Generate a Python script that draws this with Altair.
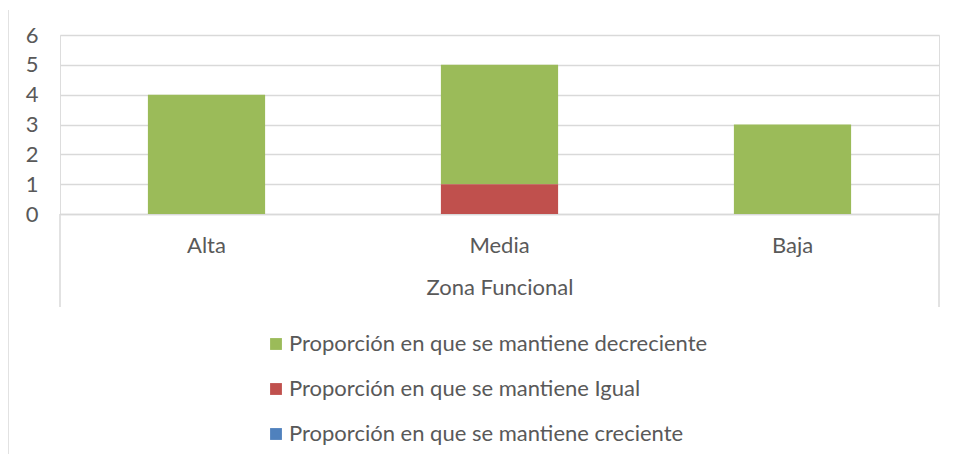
import altair as alt
import pandas as pd

zonas = ["Alta", "Media", "Baja"]
series = [
    "Proporción en que se mantiene decreciente",
    "Proporción en que se mantiene Igual",
    "Proporción en que se mantiene creciente",
]
decreciente = [4, 4, 3]
igual = [0, 1, 0]
creciente = [0, 0, 0]
colores = ["#9BBB59", "#C0504D", "#4F81BD"]
stack_order = {series[2]: 0, series[1]: 1, series[0]: 2}

rows = []
for i, z in enumerate(zonas):
    for s, vals in zip(series, [decreciente, igual, creciente]):
        rows.append({"zona": z, "serie": s, "valor": vals[i], "orden": stack_order[s]})
df = pd.DataFrame(rows)

W, H = 879, 179
FONT = "Lato"
GRAY = "#595959"
FS = 22

bars = alt.Chart(df).mark_bar(width=alt.RelativeBandSize(0.4)).encode(
    x=alt.X("zona:N", sort=zonas,
            scale=alt.Scale(paddingInner=0, paddingOuter=0),
            axis=alt.Axis(title="Zona Funcional", labelAngle=0, labelFontSize=FS,
                          labelColor=GRAY, labelPadding=21, ticks=False,
                          domainColor="#D9D9D9", domainWidth=1.5,
                          titleFontSize=FS, titleColor=GRAY, titleFontWeight="normal",
                          titlePadding=21, labelFont=FONT, titleFont=FONT)),
    y=alt.Y("valor:Q", stack="zero",
            scale=alt.Scale(domain=[0, 6], nice=False),
            axis=alt.Axis(title=None, values=[0, 1, 2, 3, 4, 5, 6], format="d",
                          labelFontSize=FS, labelColor=GRAY, labelPadding=22,
                          ticks=False, domain=False, gridColor="#D9D9D9",
                          gridWidth=1.5, labelFont=FONT)),
    color=alt.Color("serie:N", sort=series,
                    scale=alt.Scale(domain=series, range=colores),
                    legend=alt.Legend(title=None, orient="none", legendX=205, legendY=298,
                                      direction="vertical", symbolType="square",
                                      symbolSize=140, symbolStrokeWidth=0,
                                      labelFontSize=FS, labelColor=GRAY, labelFont=FONT,
                                      labelLimit=0, rowPadding=23, labelOffset=2, padding=0)),
    order=alt.Order("orden:Q", sort="ascending"),
)

frame_df = pd.DataFrame({"k": [0]})
left_v = alt.Chart(frame_df).mark_rule(color="#D9D9D9", strokeWidth=1.5).encode(
    x=alt.value(0), y=alt.value(H), y2=alt.value(H + 93))
right_v = alt.Chart(frame_df).mark_rule(color="#D9D9D9", strokeWidth=1.5).encode(
    x=alt.value(W), y=alt.value(H), y2=alt.value(H + 93))
border = alt.Chart(frame_df).mark_rule(color="#D9D9D9", strokeWidth=1.5).encode(
    x=alt.value(-52), y=alt.value(-25), y2=alt.value(H + 240))

chart = alt.layer(bars, left_v, right_v, border).properties(
    width=W, height=H,
    autosize=alt.AutoSizeParams(type="none"),
    padding={"left": 52, "top": 27, "right": 10, "bottom": 242},
).configure_view(stroke=None).configure(background="white")

chart.save("out.html", embed_options={"renderer": "svg", "actions": False})
